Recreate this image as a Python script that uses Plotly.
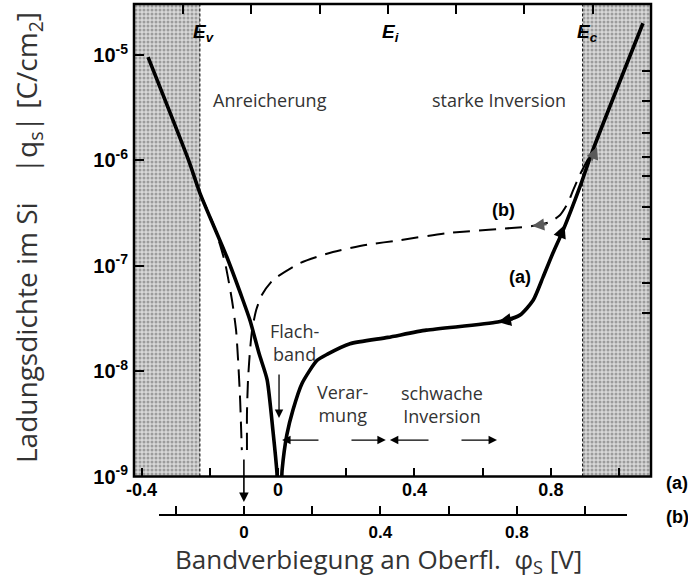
import plotly.graph_objects as go

# ---- axis extents and band edges (surface potential in V, axis (a)) ----
X_RANGE = [-0.4222, 1.0935]
LOG_Y_RANGE = [-9.0, -4.516]
E_V, E_I, E_C = -0.229, 0.322, 0.893
PHI_WEAK_END = 0.644          # end of weak inversion (2 * phi_B)
B_OFFSET = 0.1                # axis (b) is shifted by 0.1 V against axis (a)

# ---- curve (a): solid ----
phi_a = [-0.381, -0.262, -0.229, -0.150, -0.103, -0.082, -0.055, -0.032, -0.015, -0.003, 0.0,
         0.006, 0.012, 0.026, 0.044, 0.070, 0.114, 0.145, 0.211, 0.322, 0.435, 0.644,
         0.709, 0.748, 0.777, 0.806, 0.836, 0.885, 0.923, 1.070]
q_a = [9.55e-6, 1.0e-6, 4.9e-7, 1.21e-7, 4.73e-8, 3.02e-8, 1.45e-8, 8.3e-9, 2.75e-9, 1.07e-9, 5.0e-10,
       5.0e-10, 1.15e-9, 2.5e-9, 4.3e-9, 7.6e-9, 1.26e-8, 1.45e-8, 1.82e-8, 2.09e-8, 2.45e-8, 2.92e-8,
       3.4e-8, 4.7e-8, 7.8e-8, 1.32e-7, 2.18e-7, 5.6e-7, 1.25e-6, 2.0e-5]

# ---- curve (b): dashed, plotted against axis (b) ----
phi_b = [-0.129, -0.090, -0.070, -0.055, -0.035, -0.023, -0.017, -0.011, -0.008, -0.006, None,
         0.009, 0.009, 0.012, 0.018, 0.024, 0.036, 0.053, 0.085, 0.1645, 0.261, 0.361, 0.458,
         0.5955, 0.845, 0.897, 0.927, 0.950, 0.965, 0.985, 1.023]
q_b = [4.9e-7, 2.5e-7, 1.58e-7, 1.06e-7, 4.73e-8, 2.45e-8, 1.27e-8, 5.3e-9, 2.75e-9, 1.78e-9, None,
       1.78e-9, 3.98e-9, 8.2e-9, 1.58e-8, 2.45e-8, 3.8e-8, 5.3e-8, 7.3e-8, 1.06e-7, 1.35e-7, 1.58e-7, 1.75e-7,
       2.04e-7, 2.38e-7, 2.6e-7, 3.03e-7, 3.94e-7, 5.2e-7, 7.3e-7, 1.25e-6]

# ---- tick positions ----
x_a_ticks = [-0.4, -0.2, 0.0, 0.2, 0.4, 0.6, 0.8, 1.0]
x_a_text = ["-0.4", "", "0", "", "0.4", "", "0.8", ""]
x_b_ticks = [-0.2, 0.0, 0.2, 0.4, 0.6, 0.8, 1.0]
x_b_text = ["", "0", "", "0.4", "", "0.8", ""]
top_ticks = [-0.6, -0.4, -0.2, 0.0, 0.2, 0.4, 0.6]      # relative to E_i
y_ticks = [1e-9, 1e-8, 1e-7, 1e-6, 1e-5]
y_text = ["10<sup>-9</sup>", "10<sup>-8</sup>", "10<sup>-7</sup>", "10<sup>-6</sup>", "10<sup>-5</sup>"]
right_ticks = [7.0e-6, 3.65e-6, 1.82e-6, 1.07e-6, 7.1e-7, 3.6e-7, 1.79e-7, 6.9e-8, 3.56e-8]

TEXT_FONT = "Open Sans"
NUM_FONT = "Liberation Sans, Arial"
TEXT_COL = "#333333"

# plot frame geometry inside the paper (paper spans y = 4 .. 515 px)
Y_DOMAIN_BOTTOM = (515 - 476.5) / 511

y_lo, y_hi = 10 ** LOG_Y_RANGE[0], 10 ** LOG_Y_RANGE[1]
shade_pattern = dict(shape=".", size=4, solidity=0.45, fgcolor="#606060", bgcolor="#d8d8d8")

fig = go.Figure()

# shaded band regions (valence band left, conduction band right)
for x0, x1 in [(X_RANGE[0], E_V), (E_C, X_RANGE[1])]:
    fig.add_trace(go.Scatter(x=[x0, x1, x1, x0, x0], y=[y_lo, y_lo, y_hi, y_hi, y_lo],
                             mode="lines", line=dict(width=0), fill="toself",
                             fillcolor="rgba(0,0,0,0)", fillpattern=shade_pattern,
                             hoverinfo="skip", showlegend=False))

# curve (b)
fig.add_trace(go.Scatter(x=phi_b, y=q_b, xaxis="x2", mode="lines",
                         line=dict(color="black", width=2, dash="17px,9px", shape="spline", smoothing=0.6),
                         connectgaps=False, showlegend=False))
# curve (a)
fig.add_trace(go.Scatter(x=phi_a, y=q_a, mode="lines",
                         line=dict(color="black", width=3.6, shape="spline", smoothing=0.6),
                         showlegend=False))

# anchor traces so the top and right tick axes are drawn
fig.add_trace(go.Scatter(x=[X_RANGE[0] - E_I], y=[y_lo], xaxis="x3", mode="markers",
                         marker=dict(opacity=0), hoverinfo="skip", showlegend=False))
fig.add_trace(go.Scatter(x=[X_RANGE[0]], y=[y_lo], yaxis="y2", mode="markers",
                         marker=dict(opacity=0), hoverinfo="skip", showlegend=False))

shapes = []
# plot frame
shapes.append(dict(type="rect", xref="x domain", yref="y domain", x0=0, x1=1, y0=0, y1=1,
                   line=dict(color="black", width=2.5), layer="above"))
# band edge lines
for xe in (E_V, E_C):
    shapes.append(dict(type="line", xref="x", yref="y domain", x0=xe, x1=xe, y0=0, y1=1,
                       line=dict(color="black", width=1, dash="3px,2px")))
shapes.append(dict(type="line", xref="x", yref="y", x0=E_I, x1=E_I, y0=LOG_Y_RANGE[0], y1=-4.925,
                   line=dict(color="black", width=1.3)))
# end of weak inversion
shapes.append(dict(type="line", xref="x", yref="y", x0=PHI_WEAK_END, x1=PHI_WEAK_END, y0=-8.68, y1=-7.534,
                   line=dict(color="black", width=1.2)))
# extrapolation of the weak-inversion line
shapes.append(dict(type="line", xref="x", yref="y", x0=0.70, x1=0.812, y0=-7.515, y1=-7.49,
                   line=dict(color="black", width=1.3, dash="5px,3px")))
# leader lines
shapes.append(dict(type="line", xref="x", yref="y", x0=-0.126, x1=-0.196, y0=-5.807, y1=-6.282,
                   line=dict(color="black", width=1.2)))
shapes.append(dict(type="line", xref="x", yref="y", x0=0.7945, x1=0.865, y0=-5.807, y1=-6.111,
                   line=dict(color="black", width=1.2)))
shapes.append(dict(type="line", xref="x", yref="y", x0=0.440, x1=0.446, y0=-7.585, y1=-7.50,
                   line=dict(color="black", width=1)))
# rotation symbol at the origin of axis (b)
shapes.append(dict(type="circle", xref="x", yref="y", x0=-0.1363, x1=-0.0718, y0=-8.758, y1=-8.663,
                   line=dict(color="black", width=1.2)))
# axis (b) base line
shapes.append(dict(type="line", xref="paper", yref="paper", x0=(159 - 134) / 517, x1=(627 - 134) / 517,
                   y0=0, y1=0, line=dict(color="black", width=2)))

ann = []


def label(x, y, text, size=18, bold=False, italic=False, color=TEXT_COL, font=TEXT_FONT, **kw):
    f = dict(family=font, size=size, color=color)
    if bold:
        f["weight"] = "bold"
    if italic:
        f["style"] = "italic"
    d = dict(x=x, y=y, xref="x", yref="y", text=text, showarrow=False, font=f,
             xanchor="center", yanchor="middle")
    d.update(kw)
    ann.append(d)


label(-0.023, -5.428, "Anreicherung")
label(0.648, -5.428, "starke Inversion")
label(0.047, -7.724, "Flach-<br>band")
label(0.1906, -8.303, "Verar-<br>mung")
label(0.481, -8.312, "schwache<br>Inversion")
label(0.660, -6.472, "(b)", size=18, bold=True, color="black", font=NUM_FONT)
label(0.7095, -7.107, "(a)", size=18, bold=True, color="black", font=NUM_FONT)
label(E_V + 0.012, -4.792, "E<sub>v</sub>", size=19, bold=True, italic=True, color="black", font=NUM_FONT)
label(E_I + 0.008, -4.792, "E<sub>i</sub>", size=19, bold=True, italic=True, color="black", font=NUM_FONT)
label(E_C + 0.014, -4.792, "E<sub>c</sub>", size=19, bold=True, italic=True, color="black", font=NUM_FONT)


def arrow(x, y, ax, ay, color="black", width=1.3, size=1.3, data_tail=False):
    d = dict(x=x, y=y, xref="x", yref="y", ax=ax, ay=ay, text="", showarrow=True,
             arrowhead=2, arrowsize=size, arrowwidth=width, arrowcolor=color)
    if data_tail:
        d.update(axref="x", ayref="y")
    ann.append(d)


# region dimension arrows (depletion / weak inversion)
Y_DIM = -8.654
arrow(0.012, Y_DIM, 0.123, Y_DIM, data_tail=True)
arrow(E_I - 0.006, Y_DIM, 0.211, Y_DIM, data_tail=True)
arrow(E_I + 0.006, Y_DIM, 0.4456, Y_DIM, data_tail=True)
arrow(PHI_WEAK_END - 0.002, Y_DIM, 0.5335, Y_DIM, data_tail=True)
# flat band marker
arrow(0.003, -8.445, 0, -45)
# direction arrows on the curves
arrow(0.645, -7.534, 16, -3, width=2.6, size=1.0)
arrow(0.840, -6.614, -6, 15, width=2.6, size=1.0)
arrow(0.745, -6.623, 16, -2, color="#5a5a5a", width=2.2, size=1.1)
arrow(0.935, -5.874, -6, 15, color="#5a5a5a", width=2.2, size=1.1)

# arrow from the rotation symbol down to the origin of axis (b)
ann.append(dict(x=-B_OFFSET, y=(515 - 502) / 511, xref="x", yref="paper", ax=0, ay=-44, text="",
                showarrow=True, arrowhead=2, arrowsize=1.2, arrowwidth=1.6, arrowcolor="black"))

# axis labels
ann.append(dict(x=1.0503, y=(515 - 483) / 511, xref="paper", yref="paper", text="(a)", showarrow=False,
                xanchor="center", yanchor="middle",
                font=dict(family=NUM_FONT, size=18, color="black", weight="bold")))
ann.append(dict(x=1.0503, y=(515 - 517) / 511, xref="paper", yref="paper", text="(b)", showarrow=False,
                xanchor="center", yanchor="middle",
                font=dict(family=NUM_FONT, size=18, color="black", weight="bold")))
ann.append(dict(x=0.472, y=(515 - 560) / 511, xref="paper", yref="paper",
                xanchor="center", yanchor="middle",
                text="Bandverbiegung an Oberfl.\u00a0\u00a0\u03c6<sub>S</sub> [V]", showarrow=False,
                font=dict(family=TEXT_FONT, size=26, color=TEXT_COL)))
ann.append(dict(x=(28 - 134) / 517, y=(515 - 238) / 511, xref="paper", yref="paper", textangle=-90,
                xanchor="center", yanchor="middle",
                text="Ladungsdichte im Si\u00a0\u00a0\u00a0\u00a0|q<sub>s</sub>| [C/cm<sub>2</sub>]",
                showarrow=False, font=dict(family=TEXT_FONT, size=28, color=TEXT_COL)))

tick_style = dict(ticks="inside", ticklen=9, tickwidth=2, tickcolor="black",
                  showgrid=False, zeroline=False, showline=False)

fig.update_layout(
    width=688, height=578,
    margin=dict(l=134, r=37, t=4, b=63),
    plot_bgcolor="rgba(0,0,0,0)", paper_bgcolor="white",
    showlegend=False,
    xaxis=dict(range=X_RANGE, anchor="free", position=Y_DOMAIN_BOTTOM, side="bottom",
               tickmode="array", tickvals=x_a_ticks, ticktext=x_a_text,
               tickfont=dict(family=NUM_FONT, size=18, color="black", weight="bold"), **tick_style),
    xaxis2=dict(range=[X_RANGE[0] + B_OFFSET, X_RANGE[1] + B_OFFSET], overlaying="x", anchor="free",
                position=0, side="bottom", tickmode="array", tickvals=x_b_ticks, ticktext=x_b_text,
                ticklabelstandoff=5,
                tickfont=dict(family=NUM_FONT, size=17, color="black", weight="bold"), **tick_style),
    xaxis3=dict(range=[X_RANGE[0] - E_I, X_RANGE[1] - E_I], overlaying="x", anchor="free", position=1,
                side="top", tickmode="array", tickvals=top_ticks, showticklabels=False, **tick_style),
    yaxis=dict(type="log", range=LOG_Y_RANGE, domain=[Y_DOMAIN_BOTTOM, 1], anchor="free", position=0,
               side="left", tickmode="array", tickvals=y_ticks, ticktext=y_text, ticklabelstandoff=6,
               tickfont=dict(family=NUM_FONT, size=20, color="black", weight="bold"), **tick_style),
    yaxis2=dict(type="log", range=LOG_Y_RANGE, overlaying="y", side="right", anchor="free", position=1,
                tickmode="array", tickvals=right_ticks, showticklabels=False, **tick_style),
    shapes=shapes,
    annotations=ann,
)

fig.write_html("out.html")
